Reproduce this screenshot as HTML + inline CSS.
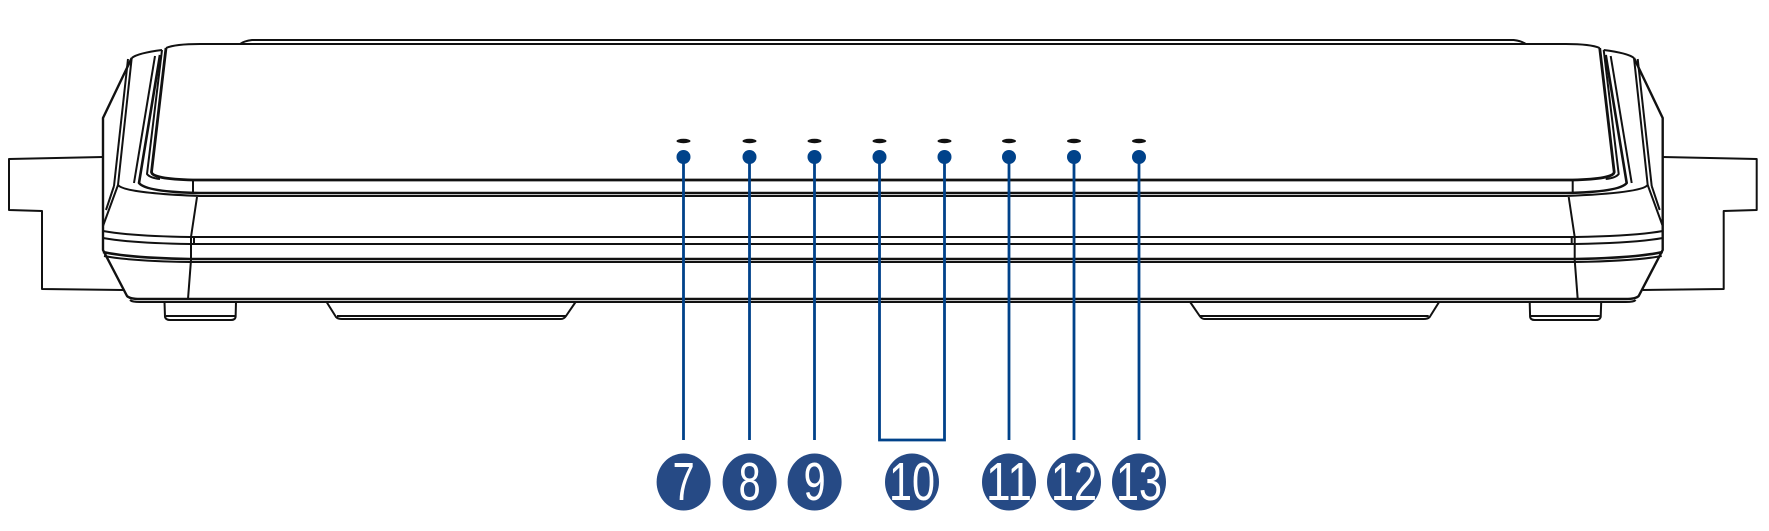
<!DOCTYPE html>
<html><head><meta charset="utf-8"><style>
html,body{margin:0;padding:0;background:#fff;}
svg{display:block}
</style></head><body>
<svg width="1769" height="531" viewBox="0 0 1769 531" xmlns="http://www.w3.org/2000/svg">
<defs>
<g id="half" fill="none" stroke="#111" stroke-width="2" stroke-linejoin="round">
  <path d="M240,44 Q244,41 252,40 L883,40"/>
  <path d="M236,44 L883,44"/>
  <path d="M166,48 Q175,44 200,44 L883,44"/>
  <path d="M166,48 L151.5,172 Q152,179 193,180 L883,180" stroke-width="2.8"/>
  <path d="M162,50 L147,174 Q150,178 160,179"/>
  <path d="M160,55 L139,183 Q146,192 200,193 L883,193" stroke-width="2.6"/>
  <path d="M155,56 L134,183"/>
  <path d="M193,180 L193,193"/>
  <path d="M131.7,58 Q138,53 162,50"/>
  <path d="M131.7,58 L118,185 Q124,193 200,196 L883,196"/>
  <path d="M128,59 L114,186"/>
  <path d="M131.7,58 L103,118 L103,250 L127,296 Q130,299 140,299 L883,299" stroke-width="2.4"/>
  <path d="M130,300 Q132,302 140,302 L883,302"/>
  <path d="M118,185 L103,226"/>
  <path d="M114,186 L106,210"/>
  <path d="M103,231 Q130,236 190,237 L883,237"/>
  <path d="M103,238 Q130,243 190,244 L883,244"/>
  <path d="M103,252 Q130,258 190,259 L883,259" stroke-width="2.6"/>
  <path d="M104,256 Q130,261 190,262 L883,262"/>
  <path d="M197,197 L191,237 L191,260 L188,299"/>
  <path d="M194,237 L194,244"/>
  <path d="M103,157 L9,159 L9,210 L42,211 L42,289 L123,290"/>
  <path d="M164.5,302 L165,317 Q166,320 170,320 L231,320 Q235,320 235.6,317 L236,302"/>
  <path d="M166,316 L235,316"/>
  <path d="M326.6,302 L336,317 Q338,319 342,319 L561,319 Q564,319 566,316 L575.6,302"/>
  <path d="M337,316 L566,316"/>
</g>
</defs>
<use href="#half"/>
<use href="#half" transform="translate(1765.7,0) scale(-1,1)"/>

<g fill="#111">
  <ellipse cx="683.5" cy="141" rx="7" ry="2.2"/>
  <ellipse cx="749.5" cy="141" rx="7" ry="2.2"/>
  <ellipse cx="814.5" cy="141" rx="7" ry="2.2"/>
  <ellipse cx="879.5" cy="141" rx="7" ry="2.2"/>
  <ellipse cx="944.5" cy="141" rx="7" ry="2.2"/>
  <ellipse cx="1009" cy="141" rx="7" ry="2.2"/>
  <ellipse cx="1074" cy="141" rx="7" ry="2.2"/>
  <ellipse cx="1139" cy="141" rx="7" ry="2.2"/>
</g>

<g stroke="#00428a" stroke-width="2.8" fill="none">
  <path d="M683.5,157 V440"/>
  <path d="M749.5,157 V440"/>
  <path d="M814.5,157 V440"/>
  <path d="M879.5,157 V440 H944.5 V157"/>
  <path d="M1009,157 V440"/>
  <path d="M1074,157 V440"/>
  <path d="M1139,157 V440"/>
</g>
<g fill="#00428a">
  <circle cx="683.5" cy="157" r="7"/>
  <circle cx="749.5" cy="157" r="7"/>
  <circle cx="814.5" cy="157" r="7"/>
  <circle cx="879.5" cy="157" r="7"/>
  <circle cx="944.5" cy="157" r="7"/>
  <circle cx="1009" cy="157" r="7"/>
  <circle cx="1074" cy="157" r="7"/>
  <circle cx="1139" cy="157" r="7"/>
</g>

<g fill="#264a85">
  <ellipse cx="683.6" cy="482" rx="27" ry="28.5"/>
  <ellipse cx="749.6" cy="482" rx="27" ry="28.5"/>
  <ellipse cx="814.6" cy="482" rx="27" ry="28.5"/>
  <ellipse cx="912" cy="482" rx="27" ry="28.5"/>
  <ellipse cx="1009" cy="482" rx="27" ry="28.5"/>
  <ellipse cx="1074" cy="482" rx="27" ry="28.5"/>
  <ellipse cx="1139" cy="482" rx="27" ry="28.5"/>
</g>
<g fill="#fff" style="font-family:'Liberation Sans',sans-serif;font-size:54px" text-anchor="middle">
  <text x="683.6" y="500" textLength="22" lengthAdjust="spacingAndGlyphs">7</text>
  <text x="749.6" y="500" textLength="22" lengthAdjust="spacingAndGlyphs">8</text>
  <text x="814.6" y="500" textLength="22" lengthAdjust="spacingAndGlyphs">9</text>
  <text x="912" y="500" textLength="46" lengthAdjust="spacingAndGlyphs">10</text>
  <text x="1009" y="500" textLength="46" lengthAdjust="spacingAndGlyphs">11</text>
  <text x="1074" y="500" textLength="46" lengthAdjust="spacingAndGlyphs">12</text>
  <text x="1139" y="500" textLength="46" lengthAdjust="spacingAndGlyphs">13</text>
</g>
</svg>
</body></html>
